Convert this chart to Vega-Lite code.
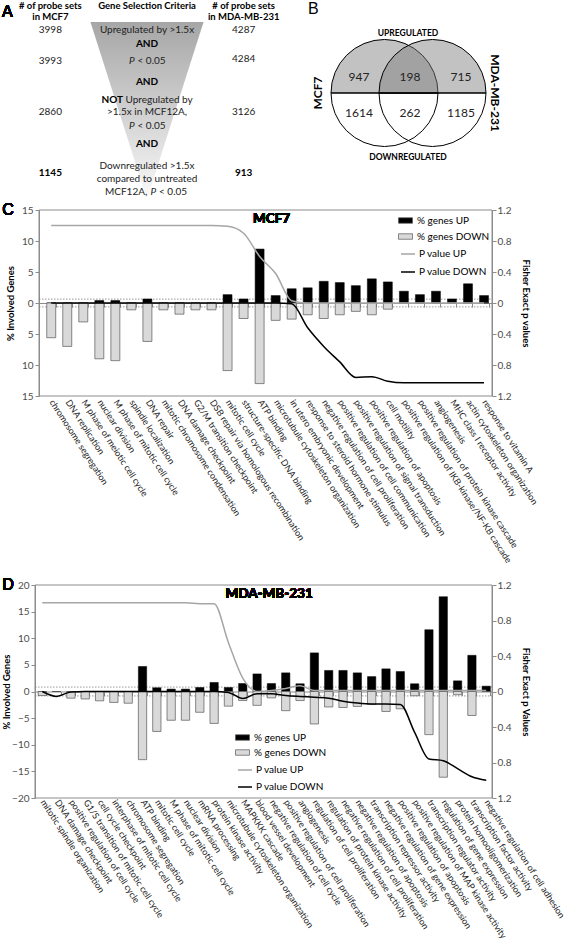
{
  "$schema": "https://vega.github.io/schema/vega-lite/v6.json",
  "background": "white",
  "width": 567,
  "height": 949,
  "autosize": {"type": "none"},
  "padding": 0,
  "config": {
    "font": "Lato",
    "view": {"stroke": null},
    "axis": {"labelFont": "Lato", "titleFont": "Lato", "grid": false, "labelColor": "#4d4d4d", "domainColor": "#8c8c8c", "tickColor": "#8c8c8c", "titleColor": "#000000"},
    "legend": {"labelFont": "Lato", "labelFontSize": 10, "labelColor": "#000000", "padding": 0},
    "text": {"font": "Lato", "color": "#000000"}
  },
  "datasets": {
    "panelA": [
      {"col": -1, "line": 0.4, "text": "# of probe sets", "kind": "header"},
      {"col": -1, "line": 1.08, "text": "in MCF7", "kind": "header"},
      {"col": 0, "line": 0.4, "text": "Gene Selection Criteria", "kind": "header"},
      {"col": 1, "line": 0.4, "text": "# of probe sets", "kind": "header"},
      {"col": 1, "line": 1.08, "text": "in MDA-MB-231", "kind": "header"},
      {"col": 0, "line": 1.95, "text": "Upregulated by >1.5x", "kind": "criterion"},
      {"col": 0, "line": 2.86, "text": "AND", "kind": "connector"},
      {"col": 0, "line": 3.97, "text": "P", "kind": "pval"},
      {"col": 0, "line": 3.97, "text": "< 0.05", "kind": "pcomp"},
      {"col": 0, "line": 5.33, "text": "AND", "kind": "connector"},
      {"col": 0, "line": 6.5, "text": "NOT", "kind": "negation"},
      {"col": 0, "line": 6.5, "text": "Upregulated by", "kind": "negated"},
      {"col": 0, "line": 7.28, "text": ">1.5x in MCF12A,", "kind": "criterion"},
      {"col": 0, "line": 8.19, "text": "P", "kind": "pval"},
      {"col": 0, "line": 8.19, "text": "< 0.05", "kind": "pcomp"},
      {"col": 0, "line": 9.36, "text": "AND", "kind": "connector"},
      {"col": 0, "line": 10.8, "text": "Downregulated >1.5x", "kind": "criterion"},
      {"col": 0, "line": 11.64, "text": "compared to untreated", "kind": "criterion"},
      {"col": 0, "line": 12.48, "text": "MCF12A,", "kind": "pvalLead"},
      {"col": 0, "line": 12.48, "text": "P", "kind": "pval2"},
      {"col": 0, "line": 12.48, "text": "< 0.05", "kind": "pcomp2"},
      {"col": -1, "line": 1.95, "text": "3998", "kind": "count"},
      {"col": -1, "line": 3.97, "text": "3993", "kind": "count"},
      {"col": -1, "line": 7.28, "text": "2860", "kind": "count"},
      {"col": -1, "line": 11.25, "text": "1145", "kind": "final"},
      {"col": 1, "line": 1.95, "text": "4287", "kind": "count"},
      {"col": 1, "line": 3.84, "text": "4284", "kind": "count"},
      {"col": 1, "line": 7.28, "text": "3126", "kind": "count"},
      {"col": 1, "line": 11.25, "text": "913", "kind": "final"}
    ],
    "funnel": [
      {"line": 1.43, "lo": -0.585, "hi": 0.585},
      {"line": 12.95, "lo": 0, "hi": 0}
    ],
    "vennSets": [{"set": "MCF7"}, {"set": "MDA-MB-231"}],
    "vennDirs": [{"dir": "UPREGULATED"}, {"dir": "DOWNREGULATED"}],
    "vennCounts": [
      {"region": "MCF7", "dir": "UPREGULATED", "count": 947},
      {"region": "Both", "dir": "UPREGULATED", "count": 198},
      {"region": "MDA-MB-231", "dir": "UPREGULATED", "count": 715},
      {"region": "MCF7", "dir": "DOWNREGULATED", "count": 1614},
      {"region": "Both", "dir": "DOWNREGULATED", "count": 262},
      {"region": "MDA-MB-231", "dir": "DOWNREGULATED", "count": 1185}
    ],
    "thresholds": [{"p": 0.05}, {"p": -0.05}],
    "mcf7": [
      {"term": "chromosome segregation", "up": 0, "down": -5.6, "pUp": 1.0, "pDown": 0},
      {"term": "DNA replication", "up": 0, "down": -7.0, "pUp": 1.0, "pDown": 0},
      {"term": "M phase of meiotic cell cycle", "up": 0, "down": -3.05, "pUp": 1.0, "pDown": 0},
      {"term": "nuclear division", "up": 0.4, "down": -9.0, "pUp": 1.0, "pDown": 0},
      {"term": "M phase of mitotic cell cycle", "up": 0.4, "down": -9.3, "pUp": 1.0, "pDown": 0},
      {"term": "spindle localization", "up": 0, "down": -1.1, "pUp": 1.0, "pDown": 0},
      {"term": "DNA repair", "up": 0.65, "down": -6.2, "pUp": 1.0, "pDown": 0},
      {"term": "mitotic chromosome condensation", "up": 0, "down": -1.1, "pUp": 1.0, "pDown": 0},
      {"term": "DNA damage checkpoint", "up": 0, "down": -1.8, "pUp": 1.0, "pDown": 0},
      {"term": "G2/M transition checkpoint", "up": 0, "down": -1.1, "pUp": 1.0, "pDown": 0},
      {"term": "DSB repair via homologous recombination", "up": 0, "down": -1.1, "pUp": 1.0, "pDown": 0},
      {"term": "mitotic cell cycle", "up": 1.35, "down": -10.9, "pUp": 0.99, "pDown": 0},
      {"term": "structure-specific DNA binding", "up": 0.65, "down": -2.5, "pUp": 0.9, "pDown": 0},
      {"term": "ATP binding", "up": 8.7, "down": -13.0, "pUp": 0.6, "pDown": 0},
      {"term": "microtubule cytoskeleton organization", "up": 1.2, "down": -2.8, "pUp": 0.38, "pDown": 0},
      {"term": "in utero embryonic development", "up": 2.3, "down": -2.6, "pUp": 0.03, "pDown": -0.01},
      {"term": "response to steroid hormone stimulus", "up": 2.45, "down": -1.9, "pUp": 0.0, "pDown": -0.32},
      {"term": "negative regulation of cell proliferation", "up": 3.5, "down": -2.5, "pUp": 0.0, "pDown": -0.56},
      {"term": "positive regulation of cell communication", "up": 3.3, "down": -1.9, "pUp": 0.0, "pDown": -0.76},
      {"term": "positive regulation of signal transduction", "up": 2.8, "down": -1.35, "pUp": 0.0, "pDown": -0.96},
      {"term": "positive regulation of apoptosis", "up": 3.9, "down": -1.9, "pUp": 0.0, "pDown": -0.95},
      {"term": "cell motility", "up": 3.4, "down": -1.0, "pUp": 0.0, "pDown": -1.01},
      {"term": "positive regulation of IKB-kinase/NF-KB cascade", "up": 1.9, "down": 0, "pUp": 0.0, "pDown": -1.03},
      {"term": "positive regulation of protein kinase cascade", "up": 1.35, "down": 0, "pUp": 0.0, "pDown": -1.03},
      {"term": "angiogenesis", "up": 1.9, "down": 0, "pUp": 0.0, "pDown": -1.03},
      {"term": "MHC class I receptor activity", "up": 0.65, "down": 0, "pUp": 0.0, "pDown": -1.03},
      {"term": "actin cytoskeleton organization", "up": 3.1, "down": 0, "pUp": 0.0, "pDown": -1.03},
      {"term": "response to vitamin A", "up": 1.2, "down": 0, "pUp": 0.0, "pDown": -1.03}
    ],
    "mda": [
      {"term": "mitotic spindle organization", "up": 0, "down": -0.75, "pUp": 1.0, "pDown": 0},
      {"term": "DNA damage checkpoint", "up": 0, "down": 0, "pUp": 1.0, "pDown": -0.055},
      {"term": "positive regulation of cell cycle", "up": 0, "down": -1.25, "pUp": 1.0, "pDown": -0.005},
      {"term": "G1/S transition of mitotic cell cycle", "up": 0, "down": -1.4, "pUp": 1.0, "pDown": 0},
      {"term": "cell cycle checkpoint", "up": 0, "down": -1.75, "pUp": 1.0, "pDown": 0},
      {"term": "interphase of mitotic cell cycle", "up": 0, "down": -2.05, "pUp": 1.0, "pDown": 0},
      {"term": "chromosome segregation", "up": 0, "down": -2.2, "pUp": 1.0, "pDown": 0},
      {"term": "ATP binding", "up": 4.7, "down": -12.8, "pUp": 1.0, "pDown": 0},
      {"term": "mitotic cell cycle", "up": 0.7, "down": -7.5, "pUp": 1.0, "pDown": 0},
      {"term": "M phase of mitotic cell cycle", "up": 0.45, "down": -5.4, "pUp": 1.0, "pDown": 0},
      {"term": "nuclear division", "up": 0.45, "down": -5.4, "pUp": 1.0, "pDown": 0},
      {"term": "mRNA processing", "up": 0.75, "down": -3.9, "pUp": 0.99, "pDown": 0},
      {"term": "protein kinase activity", "up": 1.7, "down": -6.0, "pUp": 0.99, "pDown": 0},
      {"term": "microtubule cytoskeleton organization", "up": 0.75, "down": -2.75, "pUp": 0.55, "pDown": -0.01},
      {"term": "MAPKKK cascade", "up": 1.5, "down": -1.7, "pUp": 0.15, "pDown": -0.08},
      {"term": "blood vessel development", "up": 3.3, "down": -2.6, "pUp": 0.0, "pDown": -0.025},
      {"term": "negative regulation of cell cycle", "up": 1.5, "down": -1.2, "pUp": 0.01, "pDown": -0.025},
      {"term": "positive regulation of cell proliferation", "up": 3.5, "down": -3.6, "pUp": 0.035, "pDown": -0.045},
      {"term": "angiogenesis", "up": 1.45, "down": -1.7, "pUp": 0.065, "pDown": -0.056},
      {"term": "regulation of cell proliferation", "up": 7.25, "down": -6.1, "pUp": 0.01, "pDown": -0.064},
      {"term": "regulation of protein kinase activity", "up": 3.95, "down": -2.9, "pUp": 0.01, "pDown": -0.075},
      {"term": "negative regulation of cell proliferation", "up": 3.95, "down": -3.0, "pUp": 0.01, "pDown": -0.11},
      {"term": "negative regulation of apoptosis", "up": 3.5, "down": -2.8, "pUp": 0.01, "pDown": -0.13},
      {"term": "transcription repressor activity", "up": 2.8, "down": -2.45, "pUp": 0.01, "pDown": -0.14},
      {"term": "negative regulation of gene expression", "up": 4.25, "down": -3.75, "pUp": 0.01, "pDown": -0.14},
      {"term": "positive regulation of apoptosis", "up": 3.75, "down": -3.25, "pUp": 0.01, "pDown": -0.146},
      {"term": "positive regulation of MAP kinase activity", "up": 1.45, "down": -0.8, "pUp": 0.01, "pDown": -0.46},
      {"term": "transcription regulator activity", "up": 11.6, "down": -8.1, "pUp": 0.01, "pDown": -0.76},
      {"term": "regulation of gene expression", "up": 17.8, "down": -16.1, "pUp": 0.01, "pDown": -0.78},
      {"term": "protein homooligomerization", "up": 2.0, "down": -0.6, "pUp": 0.01, "pDown": -0.87},
      {"term": "transcription factor activity", "up": 6.8, "down": -4.5, "pUp": 0.01, "pDown": -0.96},
      {"term": "negative regulation of cell adhesion", "up": 1.0, "down": 0, "pUp": 0.01, "pDown": -1.0}
    ]
  },
  "layer": [
    {
      "data": {"name": "funnel"},
      "mark": {"type": "area", "orient": "horizontal", "color": {"gradient": "linear", "x1": 0, "y1": 0, "x2": 0, "y2": 1, "stops": [{"offset": 0, "color": "#a6a6a6"}, {"offset": 1, "color": "#fafafa"}]}},
      "encoding": {
        "y": {"field": "line", "type": "quantitative", "scale": {"domain": [0, 13], "range": [0, 200], "nice": false, "zero": false}, "axis": null},
        "x": {"field": "lo", "type": "quantitative", "scale": {"domain": [-1.5, 1.5], "range": [2, 292], "nice": false, "zero": false}, "axis": null},
        "x2": {"field": "hi"}
      }
    },
    {
      "data": {"name": "panelA"},
      "encoding": {
        "x": {"field": "col", "type": "quantitative", "scale": {"domain": [-1.5, 1.5], "range": [2, 292], "nice": false, "zero": false}, "axis": null},
        "y": {"field": "line", "type": "quantitative", "scale": {"domain": [0, 13], "range": [0, 200], "nice": false, "zero": false}, "axis": null},
        "text": {"field": "text"}
      },
      "layer": [
        {"transform": [{"filter": "datum.kind === 'header'"}], "mark": {"type": "text", "fontWeight": "bold", "fontSize": 9.5, "baseline": "middle"}},
        {"transform": [{"filter": "datum.kind === 'criterion' || datum.kind === 'count'"}], "mark": {"type": "text", "fontSize": 10, "baseline": "middle", "color": "#222222"}},
        {"transform": [{"filter": "datum.kind === 'connector' || datum.kind === 'final'"}], "mark": {"type": "text", "fontWeight": "bold", "fontSize": 10, "baseline": "middle"}},
        {"transform": [{"filter": "datum.kind === 'negation'"}], "mark": {"type": "text", "fontWeight": "bold", "fontSize": 10, "baseline": "middle", "align": "right", "dx": -24}},
        {"transform": [{"filter": "datum.kind === 'negated'"}], "mark": {"type": "text", "fontSize": 10, "baseline": "middle", "align": "left", "dx": -21.5, "color": "#222222"}},
        {"transform": [{"filter": "datum.kind === 'pval'"}], "mark": {"type": "text", "fontSize": 10, "fontStyle": "italic", "baseline": "middle", "align": "left", "dx": -18, "color": "#222222"}},
        {"transform": [{"filter": "datum.kind === 'pcomp'"}], "mark": {"type": "text", "fontSize": 10, "baseline": "middle", "align": "left", "dx": -9.5, "color": "#222222"}},
        {"transform": [{"filter": "datum.kind === 'pvalLead'"}], "mark": {"type": "text", "fontSize": 10, "baseline": "middle", "align": "left", "dx": -42, "color": "#222222"}},
        {"transform": [{"filter": "datum.kind === 'pval2'"}], "mark": {"type": "text", "fontSize": 10, "fontStyle": "italic", "baseline": "middle", "align": "left", "dx": 3.5, "color": "#222222"}},
        {"transform": [{"filter": "datum.kind === 'pcomp2'"}], "mark": {"type": "text", "fontSize": 10, "baseline": "middle", "align": "left", "dx": 12, "color": "#222222"}},
        {"mark": {"type": "text", "font": "Liberation Sans", "fontSize": 16, "align": "left", "baseline": "middle"},
         "encoding": {"x": {"datum": -1.5, "type": "quantitative"}, "y": {"datum": 0.8, "type": "quantitative"}, "text": {"value": "A"}}}
      ]
    },
    {
      "layer": [
        {
          "data": {"name": "vennSets"},
          "mark": {"type": "arc", "theta": -1.5708, "theta2": 1.5708, "radius": 53.5, "radius2": 0, "fill": "#7e7e7e", "fillOpacity": 0.47, "stroke": "#000000", "strokeWidth": 1},
          "encoding": {
            "x": {"field": "set", "type": "nominal", "scale": {"type": "point", "domain": ["MCF7", "MDA-MB-231"], "range": [384.5, 432.5], "padding": 0}, "axis": null},
            "y": {"datum": 0, "type": "quantitative", "scale": {"domain": [-1, 1], "range": [147, 39]}, "axis": null}
          }
        },
        {
          "data": {"name": "vennSets"},
          "mark": {"type": "arc", "theta": 1.5708, "theta2": 4.7124, "radius": 53.5, "radius2": 0, "fill": "#ffffff", "fillOpacity": 0, "stroke": "#000000", "strokeWidth": 1},
          "encoding": {
            "x": {"field": "set", "type": "nominal", "scale": {"type": "point", "domain": ["MCF7", "MDA-MB-231"], "range": [384.5, 432.5], "padding": 0}, "axis": null},
            "y": {"datum": 0, "type": "quantitative", "scale": {"domain": [-1, 1], "range": [147, 39]}, "axis": null}
          }
        },
        {
          "data": {"name": "vennCounts"},
          "mark": {"type": "text", "fontSize": 12, "baseline": "middle", "color": "#222222"},
          "encoding": {
            "x": {"field": "region", "type": "nominal", "scale": {"type": "point", "domain": ["MCF7", "Both", "MDA-MB-231"], "range": [359, 461], "padding": 0}, "axis": null},
            "y": {"field": "dir", "type": "nominal", "scale": {"type": "point", "domain": ["UPREGULATED", "DOWNREGULATED"], "range": [77, 113], "padding": 0}, "axis": null},
            "text": {"field": "count"}
          }
        },
        {
          "data": {"name": "vennDirs"},
          "mark": {"type": "text", "fontSize": 8.5, "fontWeight": "bold", "baseline": "middle"},
          "encoding": {
            "x": {"datum": "Both", "type": "nominal", "scale": {"type": "point", "domain": ["MCF7", "Both", "MDA-MB-231"], "range": [359, 457], "padding": 0}, "axis": null},
            "y": {"field": "dir", "type": "nominal", "scale": {"type": "point", "domain": ["UPREGULATED", "DOWNREGULATED"], "range": [33, 157], "padding": 0}, "axis": null},
            "text": {"field": "dir"}
          }
        },
        {
          "data": {"name": "vennSets"},
          "encoding": {
            "x": {"field": "set", "type": "nominal", "scale": {"type": "point", "domain": ["MCF7", "MDA-MB-231"], "range": [318, 495], "padding": 0}, "axis": null},
            "y": {"datum": 0, "type": "quantitative", "scale": {"domain": [-1, 1], "range": [147, 39]}, "axis": null},
            "text": {"field": "set"}
          },
          "layer": [
            {"transform": [{"filter": "datum.set === 'MCF7'"}], "mark": {"type": "text", "fontSize": 12, "fontWeight": "bold", "baseline": "middle", "angle": 270}},
            {"transform": [{"filter": "datum.set === 'MDA-MB-231'"}], "mark": {"type": "text", "fontSize": 12, "fontWeight": "bold", "baseline": "middle", "angle": 90}},
            {"transform": [{"filter": "datum.set === 'MCF7'"}], "mark": {"type": "text", "font": "Liberation Sans", "fontSize": 16, "align": "left", "baseline": "middle", "dx": -10},
             "encoding": {"y": {"datum": 1.55, "type": "quantitative"}, "text": {"value": "B"}}}
          ]
        }
      ],
      "resolve": {"scale": {"x": "independent", "y": "independent"}}
    },
    {
      "data": {"values": [{"panel": "MCF7"}]},
      "encoding": {
        "x": {"datum": 0, "type": "quantitative", "scale": {"domain": [0, 1], "range": [39, 492]}, "axis": null},
        "x2": {"datum": 1}
      },
      "layer": [
        {
          "mark": {"type": "rect", "fill": "#ffffff", "fillOpacity": 0, "stroke": "#8c8c8c", "strokeWidth": 1},
          "encoding": {
            "y": {"datum": -1.2, "type": "quantitative", "scale": {"domain": [-1.2, 1.2], "range": [396, 210], "nice": false}, "axis": null},
            "y2": {"datum": 1.2}
          }
        },
        {
          "data": {"name": "thresholds"},
          "mark": {"type": "rule", "strokeDash": [1.5, 1.5], "color": "#7f7f7f", "strokeWidth": 0.8},
          "encoding": {"y": {"field": "p", "type": "quantitative"}}
        }
      ]
    },
    {
      "data": {"name": "mcf7"},
      "layer": [
        {
          "layer": [
            {
              "mark": {"type": "bar", "stroke": "#000000", "strokeWidth": 0.5},
              "encoding": {
                "x": {"field": "term", "type": "nominal", "sort": null, "scale": {"range": [39, 492], "paddingInner": 0.44, "paddingOuter": 0.35, "align": 0.69},
                  "axis": {"orient": "bottom", "offset": -646, "labelPadding": 93, "labelAngle": 57, "labelAlign": "left", "labelBaseline": "middle", "labelFontSize": 9, "labelColor": "#1a1a1a", "labelLimit": 400, "labelOverlap": false, "tickBand": "extent", "tickSize": 4, "title": null}},
                "y": {"field": "up", "type": "quantitative", "scale": {"domain": [-15, 15], "range": [396, 210], "nice": false},
                  "axis": {"orient": "left", "offset": -39, "values": [-15, -10, -5, 0, 5, 10, 15], "labelExpr": "'' + abs(datum.value)", "title": "% Involved Genes", "titleFontSize": 9.5, "titleFontWeight": "bold", "titlePadding": 6, "labelFontSize": 10, "tickSize": 4, "labelPadding": 2}},
                "fill": {"datum": "% genes UP", "type": "nominal", "scale": {"domain": ["% genes UP", "% genes DOWN"], "range": ["#000000", "#d9d9d9"]},
                  "legend": {"orient": "none", "legendX": 400, "legendY": 215, "title": null, "symbolType": "M-1.4,-0.55H1.4V0.55H-1.4Z", "symbolSize": 100, "symbolStrokeColor": "#595959", "symbolStrokeWidth": 0.7, "rowPadding": 5, "labelOffset": 6}}
              }
            },
            {
              "mark": {"type": "bar", "stroke": "#595959", "strokeWidth": 0.7},
              "encoding": {
                "x": {"field": "term", "type": "nominal", "sort": null},
                "y": {"field": "down", "type": "quantitative"},
                "fill": {"datum": "% genes DOWN", "type": "nominal"}
              }
            },
            {
              "mark": {"type": "text", "fontWeight": "bold", "fontSize": 13.5, "dx": 12, "baseline": "middle"},
              "encoding": {
                "x": {"datum": "ATP binding", "type": "nominal"},
                "y": {"datum": 13.5, "type": "quantitative"},
                "text": {"value": "MCF7"}
              }
            },
            {
              "mark": {"type": "text", "font": "Liberation Sans", "fontSize": 16, "dx": -49, "align": "left", "baseline": "middle"},
              "encoding": {
                "x": {"datum": "chromosome segregation", "type": "nominal"},
                "y": {"datum": 15, "type": "quantitative"},
                "text": {"value": "C"}
              }
            }
          ]
        },
        {
          "layer": [
            {
              "mark": {"type": "line", "interpolate": "monotone", "strokeWidth": 1.5},
              "encoding": {
                "x": {"field": "term", "type": "nominal", "sort": null},
                "y": {"field": "pUp", "type": "quantitative", "scale": {"domain": [-1.2, 1.2], "range": [396, 210], "nice": false},
                  "axis": {"orient": "right", "offset": -75, "values": [-1.2, -0.8, -0.4, 0, 0.4, 0.8, 1.2], "labelExpr": "datum.value == 0 ? '0' : format(abs(datum.value), '.1f')", "title": "Fisher Exact p values", "titleFontSize": 9.5, "titleFontWeight": "bold", "titlePadding": 10, "labelFontSize": 10, "tickSize": 4, "labelPadding": 1}},
                "stroke": {"datum": "P value UP", "type": "nominal", "scale": {"domain": ["P value UP", "P value DOWN"], "range": ["#a6a6a6", "#000000"]},
                  "legend": {"orient": "none", "legendX": 400, "legendY": 246, "title": null, "symbolType": "stroke", "symbolSize": 196, "symbolStrokeWidth": 1.5, "rowPadding": 5, "labelOffset": 3}}
              }
            },
            {
              "mark": {"type": "line", "interpolate": "monotone", "strokeWidth": 1.5},
              "encoding": {
                "x": {"field": "term", "type": "nominal", "sort": null},
                "y": {"field": "pDown", "type": "quantitative"},
                "stroke": {"datum": "P value DOWN", "type": "nominal"}
              }
            }
          ]
        }
      ],
      "resolve": {"scale": {"y": "independent"}}
    },
    {
      "data": {"values": [{"panel": "MDA-MB-231"}]},
      "encoding": {
        "x": {"datum": 0, "type": "quantitative", "scale": {"domain": [0, 1], "range": [35, 492]}, "axis": null},
        "x2": {"datum": 1}
      },
      "layer": [
        {
          "mark": {"type": "rect", "fill": "#ffffff", "fillOpacity": 0, "stroke": "#8c8c8c", "strokeWidth": 1},
          "encoding": {
            "y": {"datum": -1.2, "type": "quantitative", "scale": {"domain": [-1.2, 1.2], "range": [798, 585], "nice": false}, "axis": null},
            "y2": {"datum": 1.2}
          }
        },
        {
          "data": {"name": "thresholds"},
          "mark": {"type": "rule", "strokeDash": [1.5, 1.5], "color": "#7f7f7f", "strokeWidth": 0.8},
          "encoding": {"y": {"field": "p", "type": "quantitative"}}
        }
      ]
    },
    {
      "data": {"name": "mda"},
      "layer": [
        {
          "layer": [
            {
              "mark": {"type": "bar", "stroke": "#000000", "strokeWidth": 0.5},
              "encoding": {
                "x": {"field": "term", "type": "nominal", "sort": null, "scale": {"range": [35, 492], "paddingInner": 0.42, "paddingOuter": 0.165, "align": 0.66},
                  "axis": {"orient": "bottom", "offset": -257.5, "labelPadding": 104.5, "labelAngle": 57, "labelAlign": "left", "labelBaseline": "middle", "labelFontSize": 9, "labelColor": "#1a1a1a", "labelLimit": 400, "labelOverlap": false, "tickBand": "extent", "tickSize": 4, "title": null}},
                "y": {"field": "up", "type": "quantitative", "scale": {"domain": [-20, 20], "range": [798, 585], "nice": false},
                  "axis": {"orient": "left", "offset": -35, "values": [-20, -15, -10, -5, 0, 5, 10, 15, 20], "title": "%  Involved Genes", "titleFontSize": 9.5, "titleFontWeight": "bold", "titlePadding": 0, "labelFontSize": 10, "tickSize": 4, "labelPadding": 2}},
                "fill": {"datum": "% genes UP", "type": "nominal", "scale": {"domain": ["% genes UP", "% genes DOWN"], "range": ["#000000", "#d9d9d9"]},
                  "legend": {"orient": "none", "legendX": 237, "legendY": 732, "title": null, "symbolType": "M-1.4,-0.55H1.4V0.55H-1.4Z", "symbolSize": 100, "symbolStrokeColor": "#595959", "symbolStrokeWidth": 0.7, "rowPadding": 4, "labelOffset": 6}}
              }
            },
            {
              "mark": {"type": "bar", "stroke": "#595959", "strokeWidth": 0.7},
              "encoding": {
                "x": {"field": "term", "type": "nominal", "sort": null},
                "y": {"field": "down", "type": "quantitative"},
                "fill": {"datum": "% genes DOWN", "type": "nominal"}
              }
            },
            {
              "mark": {"type": "text", "fontWeight": "bold", "fontSize": 13.5, "dx": 12, "baseline": "middle"},
              "encoding": {
                "x": {"datum": "blood vessel development", "type": "nominal"},
                "y": {"datum": 18.3, "type": "quantitative"},
                "text": {"value": "MDA-MB-231"}
              }
            },
            {
              "mark": {"type": "text", "font": "Liberation Sans", "fontSize": 16, "dx": -40, "align": "left", "baseline": "middle"},
              "encoding": {
                "x": {"datum": "mitotic spindle organization", "type": "nominal"},
                "y": {"datum": 20, "type": "quantitative"},
                "text": {"value": "D"}
              }
            }
          ]
        },
        {
          "layer": [
            {
              "mark": {"type": "line", "interpolate": "monotone", "strokeWidth": 1.5},
              "encoding": {
                "x": {"field": "term", "type": "nominal", "sort": null},
                "y": {"field": "pUp", "type": "quantitative", "scale": {"domain": [-1.2, 1.2], "range": [798, 585], "nice": false},
                  "axis": {"orient": "right", "offset": -75, "values": [-1.2, -0.8, -0.4, 0, 0.4, 0.8, 1.2], "labelExpr": "datum.value == 0 ? '0' : format(abs(datum.value), '.1f')", "title": "Fisher Exact  p Values", "titleFontSize": 9.5, "titleFontWeight": "bold", "titlePadding": 10, "labelFontSize": 10, "tickSize": 4, "labelPadding": 1}},
                "stroke": {"datum": "P value UP", "type": "nominal", "scale": {"domain": ["P value UP", "P value DOWN"], "range": ["#a6a6a6", "#000000"]},
                  "legend": {"orient": "none", "legendX": 237, "legendY": 762, "title": null, "symbolType": "stroke", "symbolSize": 196, "symbolStrokeWidth": 1.5, "rowPadding": 4, "labelOffset": 3}}
              }
            },
            {
              "mark": {"type": "line", "interpolate": "monotone", "strokeWidth": 1.5},
              "encoding": {
                "x": {"field": "term", "type": "nominal", "sort": null},
                "y": {"field": "pDown", "type": "quantitative"},
                "stroke": {"datum": "P value DOWN", "type": "nominal"}
              }
            }
          ]
        }
      ],
      "resolve": {"scale": {"y": "independent"}}
    }
  ],
  "resolve": {
    "scale": {"x": "independent", "y": "independent", "fill": "independent", "stroke": "independent"},
    "axis": {"x": "independent", "y": "independent"},
    "legend": {"fill": "independent", "stroke": "independent"}
  }
}
